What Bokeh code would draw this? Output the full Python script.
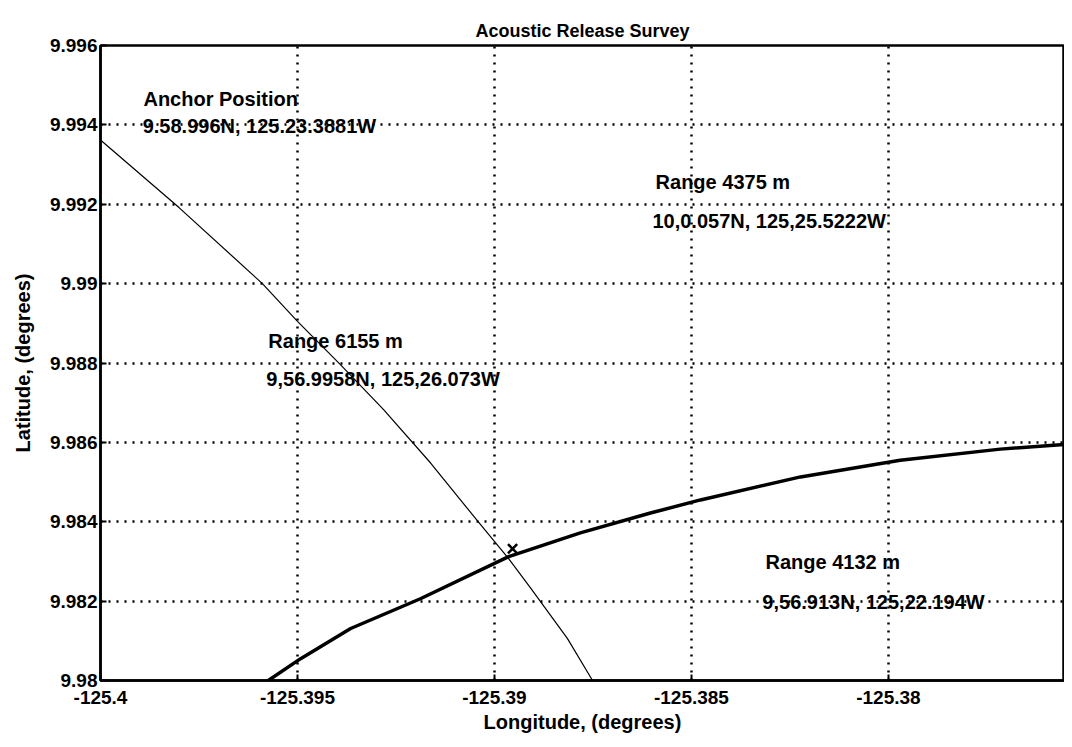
from bokeh.plotting import figure
from bokeh.models import FixedTicker, Range1d, ColumnDataSource
from bokeh.core.properties import value
from bokeh.embed import file_html
from bokeh.resources import INLINE

# ---- data ----
x_ticks = [-125.4, -125.395, -125.39, -125.385, -125.38]
x_tick_labels = ["-125.4", "-125.395", "-125.39", "-125.385", "-125.38"]
y_ticks = [9.98, 9.982, 9.984, 9.986, 9.988, 9.99, 9.992, 9.994, 9.996]
y_tick_labels = ["9.98", "9.982", "9.984", "9.986", "9.988", "9.99", "9.992", "9.994", "9.996"]

# thin arc (Range 6155 m)
range6155_lon = [-125.4, -125.3980, -125.39589, -125.3950, -125.39391, -125.39282,
                 -125.39162, -125.39043, -125.38964, -125.38909, -125.38815, -125.38751]
range6155_lat = [9.99362, 9.99191, 9.9900, 9.98905, 9.98796, 9.98683,
                 9.98548, 9.98402, 9.98307, 9.98234, 9.98106, 9.98]

# thick arc (Range 4132 m)
range4132_lon = [-125.39574, -125.39492, -125.39365, -125.39188, -125.38964, -125.38782,
                 -125.38604, -125.38477, -125.38223, -125.37970, -125.37716, -125.37533]
range4132_lat = [9.98, 9.98055, 9.98131, 9.98206, 9.98312, 9.98372,
                 9.98422, 9.98455, 9.98513, 9.98555, 9.98583, 9.98596]

fix_lon = [-125.38954]
fix_lat = [9.98332]

label_text = ["Anchor Position", "9.58.996N, 125.23.3881W",
              "Range 4375 m", "10,0.057N, 125,25.5222W",
              "Range 6155 m", "9,56.9958N, 125,26.073W",
              "Range 4132 m", "9,56.913N, 125,22.194W"]
label_lon = [-125.39891, -125.39893, -125.38591, -125.38599,
             -125.39574, -125.39579, -125.38312, -125.38320]
label_lat = [9.99466, 9.99398, 9.99257, 9.99158,
             9.98855, 9.98759, 9.98298, 9.98197]

FONT = "Liberation Sans"

p = figure(width=1064, height=739, output_backend="svg", toolbar_location=None,
           x_range=Range1d(-125.4, -125.37553), y_range=Range1d(9.98, 9.996),
           title="Acoustic Release Survey",
           min_border_left=100, min_border_top=45, min_border_bottom=59, min_border_right=0)

p.title.align = "center"
p.title.text_font = FONT
p.title.text_font_size = "18px"
p.title.text_font_style = "bold"
p.title.text_color = "black"
p.title.offset = 0

p.outline_line_color = "black"
p.outline_line_width = 2.5
p.background_fill_color = "white"
p.border_fill_color = "white"

for ax in (p.xaxis[0], p.yaxis[0]):
    ax.axis_line_width = 2.5
    ax.axis_line_color = "black"
    ax.major_tick_in = 6
    ax.major_tick_out = 0
    ax.minor_tick_in = 0
    ax.minor_tick_out = 0
    ax.major_tick_line_color = "black"
    ax.major_tick_line_width = 2
    ax.major_label_text_font = FONT
    ax.major_label_text_font_size = "19px"
    ax.major_label_text_font_style = "bold"
    ax.major_label_text_color = "black"
    ax.axis_label_text_font = FONT
    ax.axis_label_text_font_size = "20px"
    ax.axis_label_text_font_style = "bold"
    ax.axis_label_text_color = "black"

p.xaxis.ticker = FixedTicker(ticks=x_ticks)
p.yaxis.ticker = FixedTicker(ticks=y_ticks)
p.xaxis.major_label_overrides = dict(zip(x_ticks, x_tick_labels))
p.yaxis.major_label_overrides = dict(zip(y_ticks, y_tick_labels))
p.xaxis.axis_label = "Longitude, (degrees)"
p.yaxis.axis_label = "Latitude, (degrees)"
p.xaxis.major_label_standoff = 10
p.yaxis.major_label_standoff = 3
p.xaxis.axis_label_standoff = 4
p.yaxis.axis_label_standoff = 13

p.xgrid.ticker = FixedTicker(ticks=x_ticks)
p.ygrid.ticker = FixedTicker(ticks=y_ticks)
for g in (p.xgrid[0], p.ygrid[0]):
    g.grid_line_color = "black"
    g.grid_line_width = 2.5
    g.grid_line_dash = "2 6"
    g.grid_line_alpha = 1.0

p.line(range6155_lon, range6155_lat, line_color="black", line_width=1.2)
p.line(range4132_lon, range4132_lat, line_color="black", line_width=3.5)
p.scatter(fix_lon, fix_lat, marker="x", size=13, line_color="black", line_width=2.5)

src = ColumnDataSource(dict(x=label_lon, y=label_lat, t=label_text))
p.text(x="x", y="y", text="t", source=src, text_font=value(FONT), text_font_size="20px",
       text_font_style="bold", text_color="black", text_baseline="middle", text_align="left")

open("out.html", "w").write(file_html(p, INLINE))
